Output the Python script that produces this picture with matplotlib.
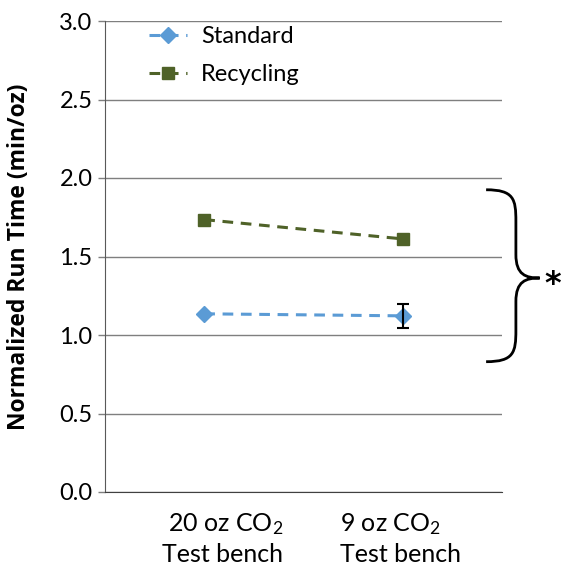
import matplotlib
matplotlib.use("Agg")
import matplotlib.pyplot as plt
from matplotlib.path import Path
from matplotlib.patches import PathPatch

categories = ["20 oz CO$_2$\nTest bench", "9 oz CO$_2$\nTest bench"]
standard = [1.135, 1.122]
standard_err = [None, 0.075]
recycling = [1.735, 1.612]
yticks = [0.0, 0.5, 1.0, 1.5, 2.0, 2.5, 3.0]

FONT = "Lato"
plt.rcParams["font.family"] = [FONT, "DejaVu Sans"]
plt.rcParams["mathtext.fontset"] = "custom"
plt.rcParams["mathtext.rm"] = FONT
plt.rcParams["mathtext.it"] = FONT

fig = plt.figure(figsize=(5.63, 5.71), dpi=100)
ax = fig.add_axes([105/563, 1-492/571, (502-105)/563, (492-21)/571])

x = [0.5, 1.5]
dash = (0, (3.5, 2.5))
l_std, = ax.plot(x, standard, color="#5B9BD5", ls=dash, lw=2.2, marker="D", ms=8,
                 label="Standard", zorder=3)
ex = [xi for xi, e in zip(x, standard_err) if e]
ey = [yi for yi, e in zip(standard, standard_err) if e]
ee = [e for e in standard_err if e]
ax.errorbar(ex, ey, yerr=ee, fmt="none", ecolor="black",
            elinewidth=1.5, capsize=4, capthick=1.5, zorder=4)
l_rec, = ax.plot(x, recycling, color="#4F6228", ls=dash, lw=2.2, marker="s", ms=9,
                 label="Recycling", zorder=3)

ax.set_xlim(0, 2)
ax.set_ylim(0, 3.0)
ax.set_yticks(yticks)
ax.set_yticklabels([f"{v:.1f}" for v in yticks])
ax.yaxis.grid(True, color="#7f7f7f", lw=1)
ax.set_axisbelow(True)
ax.set_xticks(x)
ax.set_xticklabels([])
ax.tick_params(axis="x", length=0)
ax.tick_params(axis="y", length=5, width=1, color="#7f7f7f", labelsize=17, pad=4)

# category labels (Excel-style alignment)
label_pos = [(0.449, "right"), (0.592, "left")]
for (xp, al), lab in zip(label_pos, categories):
    ax.text(xp, -0.041, lab, transform=ax.transAxes, ha=al, va="top", multialignment=al,
            fontsize=18, linespacing=1.3)

for s in ["top", "right"]:
    ax.spines[s].set_visible(False)
ax.spines["left"].set_color("#595959")
ax.spines["bottom"].set_color("#404040")
ax.set_ylabel("Normalized Run Time (min/oz)", fontsize=16.5, fontweight="bold",
              family=["Open Sans", "DejaVu Sans"], labelpad=20)

ax.legend(handles=[l_std, l_rec], loc="upper left", bbox_to_anchor=(0.057, 1.035), frameon=False,
          fontsize=17, handlelength=1.6, labelspacing=0.75, handletextpad=0.6)

# brace
y0, y1, ym = 1.925, 0.83, 1.363
xa, xb, xt = 1.92, 2.07, 2.19
verts = [(xa, y0), (xb - 0.01, y0), (xb, y0 - 0.06), (xb, y0 - 0.2),
         (xb, ym + 0.15),
         (xb, ym + 0.02), (xb + 0.05, ym), (xt, ym),
         (xb + 0.05, ym), (xb, ym - 0.02), (xb, ym - 0.15),
         (xb, y1 + 0.2),
         (xb, y1 + 0.06), (xb - 0.01, y1), (xa, y1)]
codes = [Path.MOVETO, Path.CURVE4, Path.CURVE4, Path.CURVE4,
         Path.LINETO,
         Path.CURVE4, Path.CURVE4, Path.CURVE4,
         Path.CURVE4, Path.CURVE4, Path.CURVE4,
         Path.LINETO,
         Path.CURVE4, Path.CURVE4, Path.CURVE4]
ax.add_patch(PathPatch(Path(verts, codes), fill=False, lw=2, color="black", clip_on=False))
ax.text(2.255, ym - 0.04, "*", fontsize=23, fontweight="bold", family=["DejaVu Sans"],
        ha="center", va="center", clip_on=False)

fig.savefig("out.png", dpi=100)
